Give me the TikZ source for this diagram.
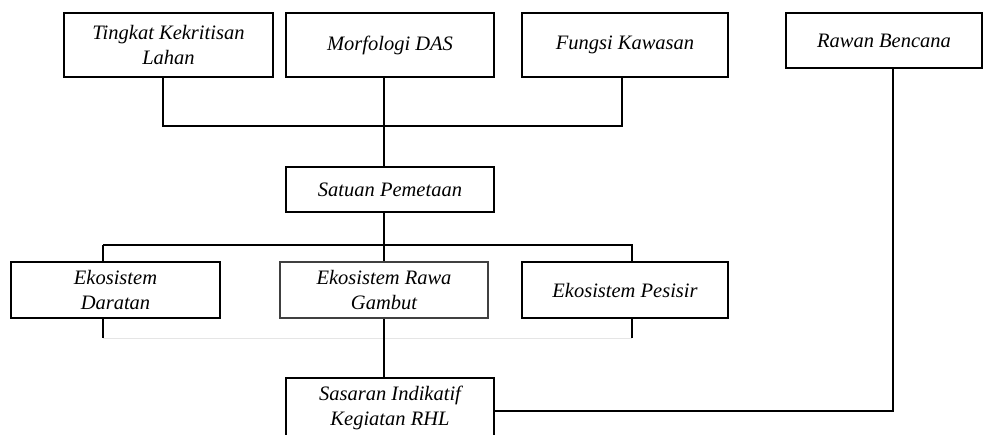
\documentclass[tikz,border=0pt]{standalone}
\usepackage{fontspec}
\setmainfont{Liberation Serif}
\begin{document}
\begin{tikzpicture}[x=1pt,y=-1pt,
  box/.style={draw, line width=1.5pt, rectangle, align=center, inner sep=0pt,
    font=\fontsize{20.5}{24.5}\selectfont\itshape},
  lightbox/.style={box, line width=1.1pt},
  link/.style={line width=1.5pt},
  lightlink/.style={line width=1.1pt}]
\useasboundingbox (0,0) rectangle (983,434);

% reference columns for the vertical connectors
\coordinate (spine) at (384,0);
\coordinate (topbus) at (0,126);
\coordinate (bus) at (0,245);
\coordinate (lowbus) at (0,338);

% top row
\node[box, minimum width=209pt, minimum height=64pt] (tkl) at (168.5,45) {Tingkat Kekritisan\\Lahan};
\node[box, minimum width=208pt, minimum height=64pt] (md) at (390,45) {Morfologi DAS};
\node[box, minimum width=206pt, minimum height=64pt] (fk) at (625,45) {Fungsi Kawasan};
\node[lightbox, minimum width=196pt, minimum height=55pt] (rb) at (884,40.5) {Rawan Bencana};

% mapping unit
\node[box, minimum width=208pt, minimum height=45pt] (sp) at (390,189.5) {Satuan Pemetaan};

% ecosystems
\node[lightbox, minimum width=209pt, minimum height=56pt] (dar) at (115.5,290) {Ekosistem\\Daratan};
\node[lightbox, minimum width=208pt, minimum height=56pt, draw=black!75] (rg) at (384,290) {Ekosistem Rawa\\Gambut};
\node[lightbox, minimum width=206pt, minimum height=56pt] (pes) at (625,290) {Ekosistem Pesisir};

% targets
\node[box, minimum width=208pt, minimum height=60pt] (sas) at (390,408) {Sasaran Indikatif\\Kegiatan RHL};

% connectors
\draw[link] ([xshift=-5.5pt]tkl.south) -- ([xshift=-5.5pt]tkl.south |- topbus) -| ([xshift=-3pt]fk.south);
\draw[link] (md.south -| spine) -- (sp.north -| spine);
\draw[link] (sp.south -| spine) -- (rg.north -| spine);
\draw[link] ([xshift=-12.5pt]dar.north |- bus) -- ([xshift=-12.5pt]dar.north);
\draw[link] ([xshift=-12.5pt]dar.north |- bus) -- ([xshift=7pt]pes.north |- bus) -- ([xshift=7pt]pes.north);
\draw[lightlink] ([xshift=-12.5pt]dar.south) -- ([xshift=-12.5pt]dar.south |- lowbus);
\draw[lightlink] ([xshift=7pt]pes.south) -- ([xshift=7pt]pes.south |- lowbus);
\draw[line width=1pt, black!10] ([xshift=-12.5pt]dar.south |- lowbus) -- ([xshift=7pt]pes.south |- lowbus);
\draw[link] (rg.south -| spine) -- (sas.north -| spine);
\draw[link] (sas.east |- 0,411) -| ([xshift=9pt]rb.south);
\end{tikzpicture}
\end{document}
